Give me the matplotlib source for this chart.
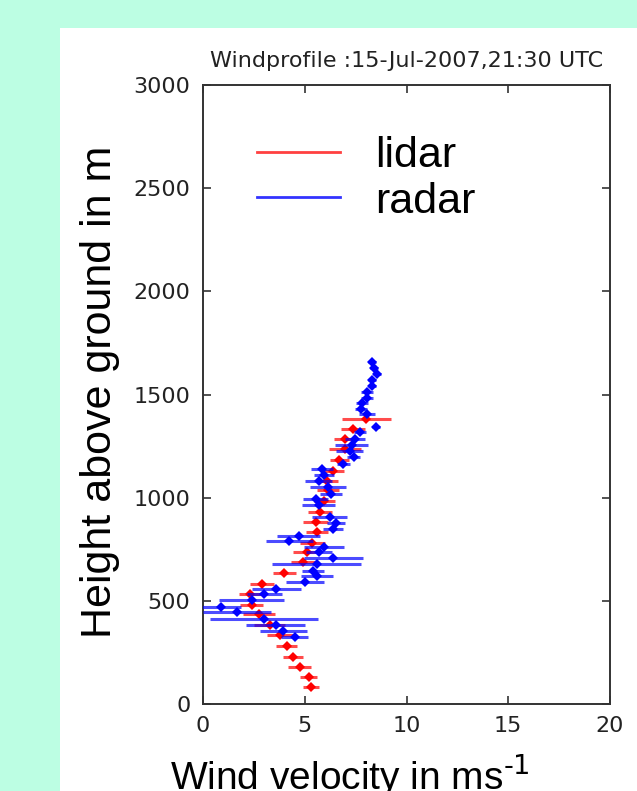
import matplotlib
matplotlib.use("Agg")
import matplotlib.pyplot as plt
from matplotlib.patches import Rectangle
from matplotlib.lines import Line2D

# lidar profile: height (m), wind speed (m/s), error (m/s)
lidar_height = [80, 133, 178, 230, 283, 332, 383, 434, 481, 532, 582, 634, 688, 735,
                780, 832, 881, 932, 982, 1039, 1079, 1130, 1183, 1236, 1285, 1335, 1379]
lidar_speed = [5.3, 5.2, 4.75, 4.43, 4.12, 3.78, 3.27, 2.74, 2.4, 2.32, 2.9, 4.0, 4.91, 5.11,
               5.37, 5.6, 5.53, 5.74, 5.96, 6.14, 6.1, 6.39, 6.7, 6.96, 6.96, 7.38, 8.03]
lidar_err = [0.39, 0.41, 0.57, 0.49, 0.51, 0.63, 0.78, 0.78, 0.57, 0.53, 0.59, 0.57, 0.57, 0.7,
             0.62, 0.53, 0.62, 0.6, 0.53, 0.53, 0.55, 0.52, 0.47, 0.78, 0.5, 0.6, 1.2]

# radar profile
radar_height = [327, 356, 383, 412, 445, 469, 505, 532, 558, 591, 618, 647, 678, 707, 735,
                761, 788, 815, 846, 875, 904, 964, 994, 1020, 1050, 1079, 1110, 1139, 1165,
                1195, 1225, 1254, 1285, 1317, 1343, 1405, 1431, 1459, 1483, 1511, 1540, 1570,
                1600, 1630, 1657]
radar_speed = [4.5, 3.95, 3.57, 3.0, 1.66, 0.89, 2.4, 3.0, 3.6, 5.02, 5.6, 5.4, 5.58, 6.4, 5.7,
               5.94, 4.25, 4.7, 6.39, 6.55, 6.22, 5.68, 5.53, 6.28, 6.14, 5.68, 5.96, 5.86, 6.9,
               7.4, 7.2, 7.3, 7.47, 7.73, 8.52, 8.06, 7.75, 7.82, 8.07, 8.06, 8.3, 8.31,
               8.57, 8.42, 8.31]
radar_err = [0.66, 1.15, 1.44, 2.64, 1.68, 1.0, 1.6, 0.86, 1.21, 0.92, 0.77, 0.55, 2.2, 1.44, 0.66,
             1.0, 1.17, 1.04, 0.49, 0.45, 0.87, 0.82, 0.62, 0.53, 0.88, 0.65, 0.5, 0.53, 0.3,
             0.3, 0.64, 0.8, 0.49, 0.3, 0.2, 0.4, 0.3, 0.3, 0.3, 0.3, 0.2, 0.2,
             0.2, 0.2, 0.2]

x_ticks = [0, 5, 10, 15, 20]
y_ticks = [0, 500, 1000, 1500, 2000, 2500, 3000]
title = "Windprofile :15-Jul-2007,21:30 UTC"

W, H = 637, 791
fig = plt.figure(figsize=(W / 100, H / 100), dpi=100)
fig.patch.set_facecolor("#bcfee3")
fig.patches.append(Rectangle((60 / W, 0), 1 - 60 / W, (H - 28) / H,
                             transform=fig.transFigure, facecolor="white",
                             edgecolor="none", zorder=-10))

ax = fig.add_axes([203 / W, 1 - 704 / H, 407 / W, 619 / H])
ax.set_zorder(1)
ax.set_facecolor("white")

ax.errorbar(lidar_speed, lidar_height, xerr=lidar_err, fmt="D", color="#ff0000",
            ms=5.5, mew=0, ecolor=(1, 0, 0, 0.7), elinewidth=2.2, capsize=0, zorder=3)
ax.errorbar(radar_speed, radar_height, xerr=radar_err, fmt="D", color="#0000ff",
            ms=5.5, mew=0, ecolor=(0, 0, 1, 0.7), elinewidth=2.2, capsize=0, zorder=4)

ax.set_xlim(0, 20)
ax.set_ylim(0, 3000)
ax.set_xticks(x_ticks)
ax.set_yticks(y_ticks)
ax.tick_params(direction="in", length=6, width=1.2, color="#333333",
               top=True, right=True, labelsize=16, labelcolor="#222222", pad=9)
for lab in ax.get_xticklabels() + ax.get_yticklabels():
    lab.set_family("DejaVu Sans")
for s in ax.spines.values():
    s.set_linewidth(1.4)
    s.set_color("#333333")

ax.set_title(title, fontsize=16, family="DejaVu Sans", color="#222222", pad=13)

ax.set_xlabel(r"Wind velocity in ms$^{\text{-1}}$", fontsize=28,
              family="Liberation Sans")
ax.set_ylabel("Height above ground in m", fontsize=31, family="Liberation Sans")
ax.xaxis.set_label_coords(0.362, -0.078)
ax.yaxis.set_label_coords(-0.205, 0.505)

handles = [Line2D([], [], color=(1, 0, 0, 0.75), lw=2),
           Line2D([], [], color=(0, 0, 1, 0.8), lw=2)]
ax.legend(handles, ["lidar", "radar"], loc="upper left", bbox_to_anchor=(0.133, 0.917),
          frameon=False, prop={"family": "Liberation Sans", "size": 31},
          handlelength=1.92, handletextpad=0.83, borderpad=0, borderaxespad=0,
          labelspacing=0.12)

fig.savefig("out.png", dpi=100, facecolor=fig.get_facecolor())
